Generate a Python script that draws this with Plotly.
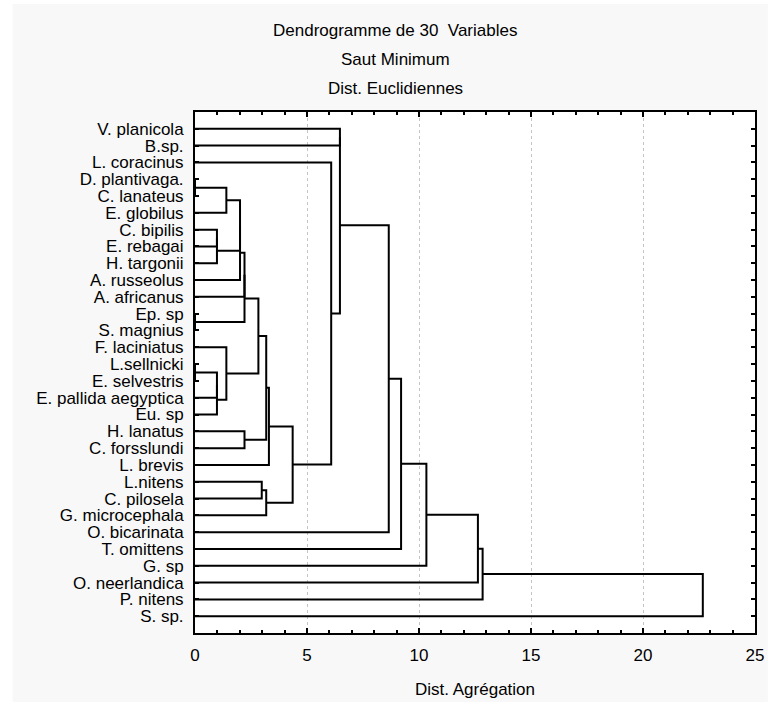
import plotly.graph_objects as go

# ---- data -------------------------------------------------------------
leaves = [
    "V. planicola", "B.sp.", "L. coracinus", "D. plantivaga.", "C. lanateus",
    "E. globilus", "C. bipilis", "E. rebagai", "H. targonii", "A. russeolus",
    "A. africanus", "Ep. sp", "S. magnius", "F. laciniatus", "L.sellnicki",
    "E. selvestris", "E. pallida aegyptica", "Eu. sp", "H. lanatus",
    "C. forsslundi", "L. brevis", "L.nitens", "C. pilosela", "G. microcephala",
    "O. bicarinata", "T. omittens", "G. sp", "O. neerlandica", "P. nitens", "S. sp.",
]
# merges: node ids 0..29 are leaves (top to bottom), merge k creates node 30+k
merge_left = [3, 11, 14, 6, 33, 32, 35, 30, 13, 37, 39, 40, 41, 18, 42, 21, 44, 45,
              46, 48, 2, 0, 51, 52, 53, 54, 55, 56, 57]
merge_right = [4, 12, 15, 7, 8, 16, 17, 5, 36, 34, 9, 10, 31, 19, 38, 22, 43, 23,
               20, 47, 49, 1, 50, 24, 25, 26, 27, 28, 29]
merge_height = [0.0, 0.0, 0.0, 0.98, 0.98, 0.98, 0.98, 1.40, 1.40, 2.01, 2.01, 2.21,
                2.21, 2.21, 2.83, 2.98, 3.18, 3.18, 3.30, 4.36, 6.08, 6.47, 6.47,
                8.65, 9.20, 10.33, 12.63, 12.84, 22.67]
x_ticks = [0, 5, 10, 15, 20, 25]

# ---- build dendrogram segments ---------------------------------------
ypos = {i: i + 1 for i in range(len(leaves))}
hpos = {i: 0.0 for i in range(len(leaves))}
xs, ys = [], []
for k, (a, b, h) in enumerate(zip(merge_left, merge_right, merge_height)):
    xs += [hpos[a], h, h, hpos[b], None]
    ys += [ypos[a], ypos[a], ypos[b], ypos[b], None]
    node = len(leaves) + k
    ypos[node] = (ypos[a] + ypos[b]) / 2
    hpos[node] = h

FONT = "Arial, Liberation Sans, sans-serif"
FS = 17
W, H = 776, 702
PL, PR, PT, PB = 195, 763, 112, 633   # plot area in page pixels
ML, MR, MT, MB = PL, W - PR, PT, H - PB
PW, PH = W - ML - MR, H - MT - MB


def px_x(px):
    return (px - ML) / PW


def px_y(py):
    return (H - MB - py) / PH


fig = go.Figure()
fig.add_trace(go.Scatter(x=xs, y=ys, mode="lines",
                         line=dict(color="black", width=2),
                         hoverinfo="skip", showlegend=False))

fig.update_layout(
    width=W, height=H, autosize=False,
    margin=dict(l=ML, r=MR, t=MT, b=MB, pad=0),
    paper_bgcolor="white", plot_bgcolor="white",
    font=dict(family=FONT, size=FS, color="black"),
    showlegend=False,
    shapes=[
        dict(type="rect", xref="paper", yref="paper", layer="below",
             x0=px_x(10), x1=px_x(W), y0=px_y(H), y1=px_y(4),
             fillcolor="#f8f8f8", line=dict(width=0)),
        dict(type="rect", xref="paper", yref="paper", layer="below",
             x0=0, x1=1, y0=0, y1=1, fillcolor="white", line=dict(width=0)),
    ],
    annotations=[
        dict(text="Dendrogramme de 30  Variables", x=px_x(398), y=px_y(30)),
        dict(text="Saut Minimum", x=px_x(398), y=px_y(59)),
        dict(text="Dist. Euclidiennes", x=px_x(398), y=px_y(88)),
        dict(text="Dist. Agrégation", x=px_x(479), y=px_y(689)),
    ],
)
for a in fig.layout.annotations:
    a.update(xref="paper", yref="paper", showarrow=False,
             xanchor="center", yanchor="middle",
             font=dict(family=FONT, size=FS, color="black"))

fig.update_xaxes(
    range=[0, 25], tickvals=x_ticks, ticktext=[str(v) for v in x_ticks],
    ticks="inside", ticklen=5, tickwidth=1.5, tickcolor="black",
    showline=True, linewidth=2, linecolor="black", mirror="allticks",
    showgrid=True, gridcolor="#c4c4c4", gridwidth=1, griddash="dot",
    zeroline=False, ticklabelstandoff=6, ticklabeloverflow="allow",
    minor=dict(dtick=1, ticks="inside", ticklen=3, tickwidth=1.5,
               tickcolor="black", showgrid=False),
    tickfont=dict(family=FONT, size=FS, color="black"),
)
fig.update_yaxes(
    range=[len(leaves) + 1, 0], tickvals=list(range(1, len(leaves) + 1)),
    ticktext=leaves,
    ticks="inside", ticklen=4, tickwidth=1.5, tickcolor="black",
    showline=True, linewidth=2, linecolor="black", mirror="allticks",
    showgrid=False, zeroline=False, ticklabelstandoff=6,
    tickfont=dict(family=FONT, size=FS, color="black"),
)

fig.write_html(
    "out.html",
    config={"responsive": False, "displayModeBar": False},
    post_script="document.body.style.margin='0px';"
                "document.body.style.overflow='hidden';",
)
